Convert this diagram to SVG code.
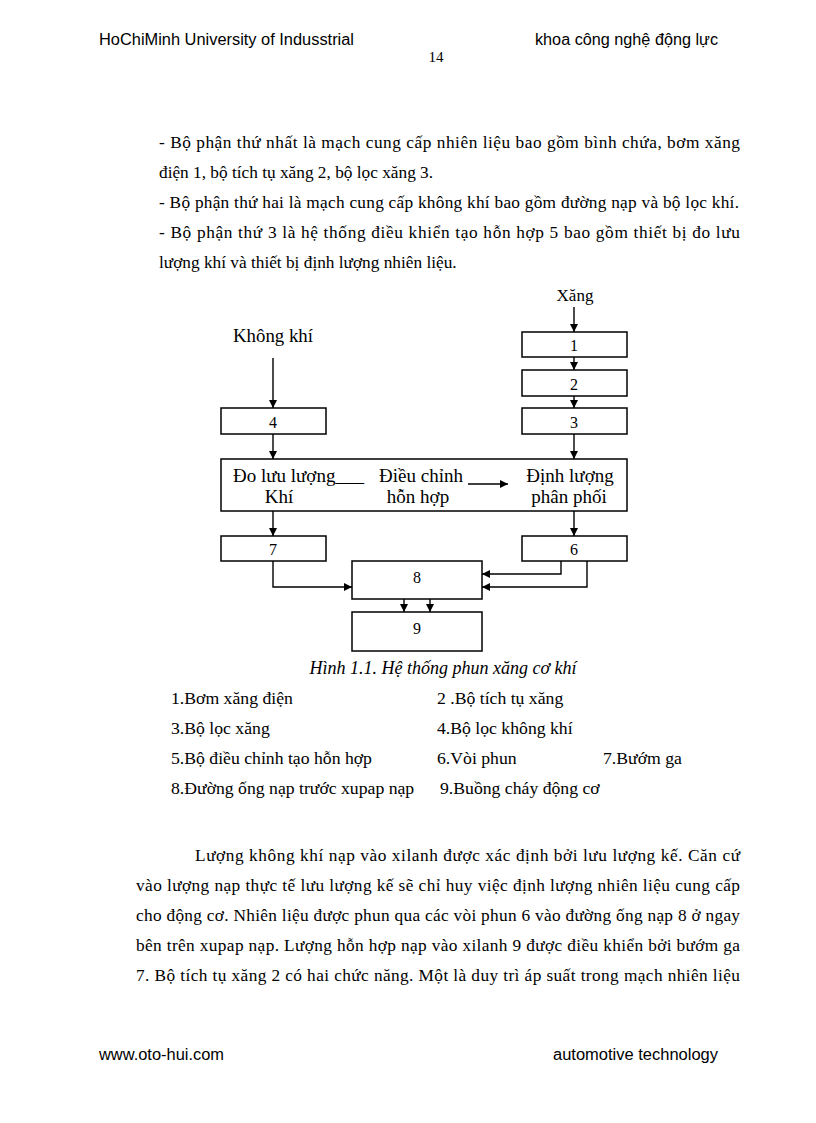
<svg xmlns="http://www.w3.org/2000/svg" width="816" height="1123" viewBox="0 0 816 1123">
<style>
.hdr{font-family:"Liberation Sans",Arial,sans-serif;font-size:16px;fill:#000}
.body{font-family:"Liberation Serif","Times New Roman",serif;font-size:17.3px;fill:#000}
.leg{font-family:"Liberation Serif","Times New Roman",serif;font-size:17.7px;fill:#000}
.dg{font-family:"Liberation Serif","Times New Roman",serif;font-size:19px;fill:#000}
.num{font-family:"Liberation Serif","Times New Roman",serif;font-size:16px;fill:#000;text-anchor:middle}
.cap{font-family:"Liberation Serif","Times New Roman",serif;font-size:18px;font-style:italic;fill:#000;text-anchor:middle}
.box{fill:#fff;stroke:#000;stroke-width:1.5}
.ln{fill:none;stroke:#000;stroke-width:1.4}
</style>
<defs>
<marker id="ah" viewBox="0 0 10 10" refX="10" refY="5" markerWidth="8" markerHeight="8" markerUnits="userSpaceOnUse" orient="auto">
<path d="M0,0 L10,5 L0,10 Z" fill="#000"/>
</marker>
</defs>
<rect width="816" height="1123" fill="#fff"/>

<g id="header">
<text class="hdr" x="99" y="45" textLength="255" lengthAdjust="spacingAndGlyphs">HoChiMinh University of Indusstrial</text>
<text class="hdr" x="535" y="45" textLength="183" lengthAdjust="spacingAndGlyphs">khoa công nghệ động lực</text>
<text class="body" x="436" y="62" text-anchor="middle" style="font-size:15px">14</text>
</g>

<g id="intro">
<text class="body" x="159" y="148" textLength="581" lengthAdjust="spacing">- Bộ phận thứ nhất là mạch cung cấp nhiên liệu bao gồm bình chứa, bơm xăng</text>
<text class="body" x="159" y="178">điện 1, bộ tích tụ xăng 2, bộ lọc xăng 3.</text>
<text class="body" x="159" y="208" textLength="580" lengthAdjust="spacing">- Bộ phận thứ hai là mạch cung cấp không khí bao gồm đường nạp và bộ lọc khí.</text>
<text class="body" x="159" y="238" textLength="581" lengthAdjust="spacing">- Bộ phận thứ 3 là hệ thống điều khiển tạo hỗn hợp 5 bao gồm thiết bị đo lưu</text>
<text class="body" x="159" y="268">lượng khí và thiết bị định lượng nhiên liệu.</text>
</g>

<g id="labels">
<text class="dg" x="575" y="301" text-anchor="middle" style="font-size:17px">Xăng</text>
<text class="dg" x="233" y="342" textLength="80" lengthAdjust="spacingAndGlyphs">Không khí</text>
</g>

<g id="node1"><rect class="box" x="522" y="332" width="105" height="25"/><text class="num" x="574" y="351">1</text></g>
<g id="node2"><rect class="box" x="522" y="370" width="105" height="26"/><text class="num" x="574" y="390">2</text></g>
<g id="node3"><rect class="box" x="522" y="408" width="105" height="26"/><text class="num" x="574" y="428">3</text></g>
<g id="node4"><rect class="box" x="221" y="408" width="105" height="26"/><text class="num" x="273" y="428">4</text></g>

<g id="node5">
<rect class="box" x="221" y="459" width="406" height="52"/>
<text class="dg" x="233" y="482">Đo lưu lượng___</text>
<text class="dg" x="279" y="503" text-anchor="middle">Khí</text>
<text class="dg" x="421" y="482" text-anchor="middle">Điều chỉnh</text>
<text class="dg" x="418" y="503" text-anchor="middle">hỗn hợp</text>
<text class="dg" x="570" y="482" text-anchor="middle">Định lượng</text>
<text class="dg" x="569" y="503" text-anchor="middle">phân phối</text>
</g>

<g id="node7"><rect class="box" x="221" y="536" width="105" height="25"/><text class="num" x="273" y="555">7</text></g>
<g id="node6"><rect class="box" x="522" y="536" width="105" height="25"/><text class="num" x="574" y="555">6</text></g>
<g id="node8"><rect class="box" x="352" y="561" width="130" height="38"/><text class="num" x="417" y="583">8</text></g>
<g id="node9"><rect class="box" x="352" y="612" width="130" height="39"/><text class="num" x="417" y="634">9</text></g>

<g id="connectors">
<line class="ln" x1="574" y1="307" x2="574" y2="332" marker-end="url(#ah)"/>
<line class="ln" x1="574" y1="357" x2="574" y2="370" marker-end="url(#ah)"/>
<line class="ln" x1="574" y1="396" x2="574" y2="408" marker-end="url(#ah)"/>
<line class="ln" x1="574" y1="434" x2="574" y2="459" marker-end="url(#ah)"/>
<line class="ln" x1="273" y1="358" x2="273" y2="408" marker-end="url(#ah)"/>
<line class="ln" x1="273" y1="434" x2="273" y2="459" marker-end="url(#ah)"/>
<line class="ln" x1="468" y1="484" x2="508" y2="484" marker-end="url(#ah)"/>
<line class="ln" x1="273" y1="511" x2="273" y2="536" marker-end="url(#ah)"/>
<line class="ln" x1="574" y1="511" x2="574" y2="536" marker-end="url(#ah)"/>
<polyline class="ln" points="273,561 273,587 352,587" marker-end="url(#ah)"/>
<polyline class="ln" points="561,561 561,574 482,574" marker-end="url(#ah)"/>
<polyline class="ln" points="587,561 587,587 482,587" marker-end="url(#ah)"/>
<line class="ln" x1="404" y1="599" x2="404" y2="612" marker-end="url(#ah)"/>
<line class="ln" x1="430" y1="599" x2="430" y2="612" marker-end="url(#ah)"/>
</g>

<g id="caption">
<text class="cap" x="443" y="674">Hình 1.1. Hệ thống phun xăng cơ khí</text>
<text class="leg" x="171" y="704">1.Bơm xăng điện</text>
<text class="leg" x="437" y="704">2 .Bộ tích tụ xăng</text>
<text class="leg" x="171" y="734">3.Bộ lọc xăng</text>
<text class="leg" x="437" y="734">4.Bộ lọc không khí</text>
<text class="leg" x="171" y="764">5.Bộ điều chỉnh tạo hỗn hợp</text>
<text class="leg" x="437" y="764">6.Vòi phun</text>
<text class="leg" x="603" y="764">7.Bướm ga</text>
<text class="leg" x="171" y="794">8.Đường ống nạp trước xupap nạp</text>
<text class="leg" x="440" y="794">9.Buồng cháy động cơ</text>
</g>

<g id="paragraph">
<text class="body" x="195" y="861" textLength="545" lengthAdjust="spacing">Lượng không khí nạp vào xilanh được xác định bởi lưu lượng kế. Căn cứ</text>
<text class="body" x="136" y="891" textLength="604" lengthAdjust="spacing">vào lượng nạp thực tế lưu lượng kế sẽ chỉ huy việc định lượng nhiên liệu cung cấp</text>
<text class="body" x="136" y="921" textLength="604" lengthAdjust="spacing">cho động cơ. Nhiên liệu được phun qua các vòi phun 6 vào đường ống nạp 8 ở ngay</text>
<text class="body" x="136" y="951" textLength="604" lengthAdjust="spacing">bên trên xupap nạp. Lượng hỗn hợp nạp vào xilanh 9 được điều khiển bởi bướm ga</text>
<text class="body" x="136" y="981" textLength="604" lengthAdjust="spacing">7. Bộ tích tụ xăng 2 có hai chức năng. Một là duy trì áp suất trong mạch nhiên liệu</text>
</g>

<g id="footer">
<text class="hdr" x="99" y="1060" textLength="125" lengthAdjust="spacingAndGlyphs">www.oto-hui.com</text>
<text class="hdr" x="553" y="1060" textLength="165" lengthAdjust="spacingAndGlyphs">automotive technology</text>
</g>
</svg>
